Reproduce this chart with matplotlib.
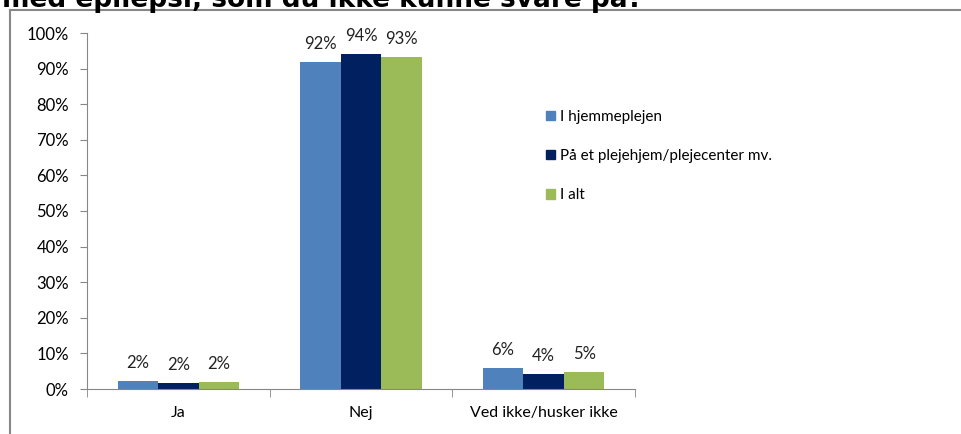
import matplotlib.pyplot as plt
import numpy as np
from matplotlib.lines import Line2D
from matplotlib.patches import Rectangle

categories = ['Ja', 'Nej', 'Ved ikke/husker ikke']
series = ['I hjemmeplejen', 'På et plejehjem/plejecenter mv.', 'I alt']
hjemmepleje = [2.2, 91.9, 5.8]
plejehjem = [1.7, 94.1, 4.1]
i_alt = [2.0, 93.2, 4.7]
colors = ['#4F81BD', '#002060', '#9BBB59']

plt.rcParams['font.family'] = ['Lato', 'DejaVu Sans']

fig = plt.figure(figsize=(9.61, 4.34), dpi=100)

# cropped title at the top
fig.text(0.002, 1 - 7 / 434, 'med epilepsi, som du ikke kunne svare på?',
         fontsize=19, fontweight='bold', family='DejaVu Sans', va='baseline', ha='left')

# chart frame (cropped on right and bottom)
fig.add_artist(Line2D([10 / 961, 10 / 961], [1 - 10 / 434, 0], color='#878787', lw=1.5))
fig.add_artist(Line2D([10 / 961, 1], [1 - 10 / 434, 1 - 10 / 434], color='#878787', lw=1.5))

ax = fig.add_axes([87 / 961, 1 - 389 / 434, (635 - 87) / 961, (389 - 33) / 434])

x = np.arange(len(categories))
w = 0.222
data = [hjemmepleje, plejehjem, i_alt]
for i, (vals, c, name) in enumerate(zip(data, colors, series)):
    bars = ax.bar(x + (i - 1) * w, vals, w, color=c, label=name)
    for b, v in zip(bars, vals):
        ax.annotate(f'{round(v):d}%', (b.get_x() + b.get_width() / 2, v),
                    xytext=(0, 13), textcoords='offset points',
                    ha='center', va='center', fontsize=12, color='#222222')

ax.set_xlim(-0.5, 2.5)
ax.set_ylim(0, 100)
ax.set_yticks(np.arange(0, 101, 10))
ax.set_yticklabels([f'{v}%' for v in range(0, 101, 10)])
ax.set_xticks(x)
ax.set_xticklabels(categories)
ax.set_xticks([-0.5, 0.5, 1.5, 2.5], minor=True)
ax.tick_params(axis='x', which='major', length=0, pad=12, labelsize=11.5)
ax.tick_params(axis='x', which='minor', length=6, color='#878787', direction='out')
ax.tick_params(axis='y', length=5, color='#878787', labelsize=12, pad=8)

for s in ['top', 'right']:
    ax.spines[s].set_visible(False)
for s in ['left', 'bottom']:
    ax.spines[s].set_color('#878787')

handles = [Rectangle((0, 0), 1, 1, color=c) for c in colors]
fig.legend(handles, series, loc='upper left', bbox_to_anchor=(532 / 961, 1 - 96 / 434),
           frameon=False, fontsize=11, handlelength=0.6, handleheight=0.6,
           handletextpad=0.3, labelspacing=1.65)

fig.savefig('out.png', dpi=100)
